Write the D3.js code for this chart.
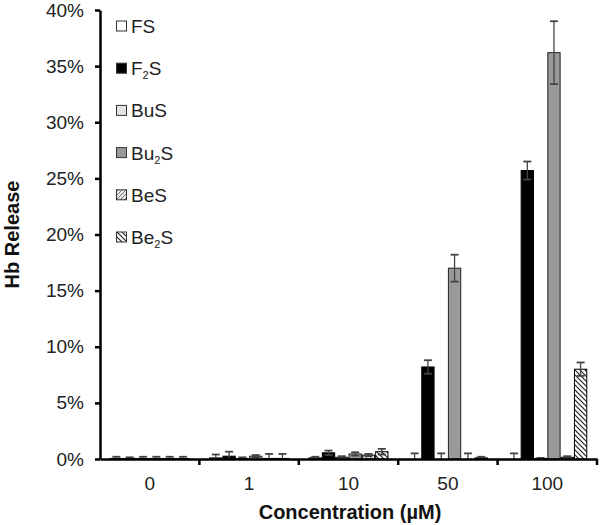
<!DOCTYPE html>
<html>
<head>
<meta charset="utf-8">
<script src="https://cdn.jsdelivr.net/npm/d3@7"></script>
<style>
  body { margin: 0; background: #fff; }
  svg { display: block; font-family: "Liberation Sans", Arial, sans-serif; }
</style>
</head>
<body>
<svg width="600" height="525"></svg>
<script>
// concentrations (µM)
let categories = ["0", "1", "10", "50", "100"];
let series = ["FS", "F2S", "BuS", "Bu2S", "BeS", "Be2S"];

// Hb release (%) per series, one value per concentration
let fsVals   = [0.05, 0.1, 0.1, 0.0, 0.0];
let f2sVals  = [0.05, 0.25, 0.55, 8.2, 25.7];
let busVals  = [0.05, 0.05, 0.15, 0.0, 0.05];
let bu2sVals = [0.05, 0.25, 0.45, 17.0, 36.2];
let besVals  = [0.05, 0.05, 0.35, 0.0, 0.15];
let be2sVals = [0.05, 0.05, 0.65, 0.1, 8.0];

// error (±%)
let fsErr   = [0.15, 0.3, 0.1, 0.5, 0.5];
let f2sErr  = [0.1, 0.4, 0.2, 0.6, 0.8];
let busErr  = [0.15, 0.1, 0.1, 0.5, 0.05];
let bu2sErr = [0.15, 0.1, 0.15, 1.2, 2.8];
let besErr  = [0.15, 0.4, 0.1, 0.5, 0.1];
let be2sErr = [0.15, 0.4, 0.25, 0.1, 0.6];

let yTicks = [0, 5, 10, 15, 20, 25, 30, 35, 40];

let allVals = [fsVals, f2sVals, busVals, bu2sVals, besVals, be2sVals];
let allErr = [fsErr, f2sErr, busErr, bu2sErr, besErr, be2sErr];

let svg = d3.select("svg");
let defs = svg.append("defs");

// hatch for BeS ( / )
let p1 = defs.append("pattern")
    .attr("id", "hatchBeS")
    .attr("patternUnits", "userSpaceOnUse")
    .attr("width", 4).attr("height", 4);
p1.append("rect").attr("width", 4).attr("height", 4).attr("fill", "#e6e6e6");
p1.append("path").attr("d", "M-1,1 l2,-2 M0,4 l4,-4 M3,5 l2,-2")
    .attr("stroke", "#777").attr("stroke-width", 1);

// hatch for Be2S ( \ )
let p2 = defs.append("pattern")
    .attr("id", "hatchBe2S")
    .attr("patternUnits", "userSpaceOnUse")
    .attr("width", 5).attr("height", 5);
p2.append("rect").attr("width", 5).attr("height", 5).attr("fill", "#fff");
p2.append("path").attr("d", "M-1,4 l2,2 M0,0 l5,5 M4,-1 l2,2")
    .attr("stroke", "#222").attr("stroke-width", 1.2);

let fills = {
    "FS": "#ffffff",
    "F2S": "#000000",
    "BuS": "#e3e3e3",
    "Bu2S": "#999999",
    "BeS": "url(#hatchBeS)",
    "Be2S": "url(#hatchBe2S)"
};

let mLeft = 100, mRight = 597, mTop = 10, mBottom = 459;

let x0 = d3.scaleBand()
    .domain(categories)
    .range([mLeft, mRight])
    .padding(0);

let x1 = d3.scaleBand()
    .domain(series)
    .range([0, x0.bandwidth()])
    .paddingInner(0)
    .paddingOuter(0.73);

let y = d3.scaleLinear()
    .domain([0, 40])
    .range([mBottom, mTop]);

// bars
let rows = [];
categories.forEach((c, ci) => {
    series.forEach((s, si) => {
        rows.push({cat: c, ser: s, v: allVals[si][ci], e: allErr[si][ci]});
    });
});

let bw = x1.bandwidth();

svg.append("g")
    .selectAll("rect")
    .data(rows)
    .enter()
    .append("rect")
    .attr("x", (d) => x0(d.cat) + x1(d.ser) + 0.5)
    .attr("y", (d) => y(d.v))
    .attr("width", bw - 1)
    .attr("height", (d) => y(0) - y(d.v))
    .attr("fill", (d) => fills[d.ser])
    .attr("stroke", (d) => d.ser == "Bu2S" ? "#222" : "#000")
    .attr("stroke-width", 1);

// error bars
let eb = svg.append("g")
    .attr("stroke", "#444")
    .attr("stroke-width", 1.3);

rows.forEach((d) => {
    let cx = x0(d.cat) + x1(d.ser) + bw / 2;
    let yTop = y(d.v + d.e);
    let yBot = y(Math.max(0, d.v - d.e));
    eb.append("line")
        .attr("x1", cx).attr("x2", cx)
        .attr("y1", yTop).attr("y2", yBot);
    eb.append("line")
        .attr("x1", cx - 4).attr("x2", cx + 4)
        .attr("y1", yTop).attr("y2", yTop)
        .attr("stroke-width", 1.8);
    if (d.v - d.e > 0) {
        eb.append("line")
            .attr("x1", cx - 4).attr("x2", cx + 4)
            .attr("y1", yBot).attr("y2", yBot)
            .attr("stroke-width", 1.8);
    }
});

// y axis
let yAxis = d3.axisLeft(y)
    .tickValues(yTicks)
    .tickFormat((d) => d + "%")
    .tickSizeInner(5)
    .tickSizeOuter(0)
    .tickPadding(11);

let gy = svg.append("g")
    .attr("transform", "translate(" + mLeft + ",0)")
    .call(yAxis);
gy.select(".domain").attr("stroke-width", 2.5);
gy.selectAll(".tick line").attr("stroke-width", 2.5);
gy.selectAll("text")
    .attr("font-size", 19)
    .attr("font-family", "Liberation Sans, Arial, sans-serif")
    .attr("fill", "#222");

// x axis
let xAxis = d3.axisBottom(x0)
    .tickSize(0)
    .tickPadding(18);

let gx = svg.append("g")
    .attr("transform", "translate(0," + mBottom + ")")
    .call(xAxis);
gx.select(".domain").attr("stroke-width", 2.5);
gx.selectAll("text")
    .attr("font-size", 19)
    .attr("font-family", "Liberation Sans, Arial, sans-serif")
    .attr("fill", "#222");

// boundary ticks between groups
gx.selectAll(".bound")
    .data(categories)
    .enter()
    .append("line")
    .attr("x1", (d) => x0(d) + x0.bandwidth())
    .attr("x2", (d) => x0(d) + x0.bandwidth())
    .attr("y1", 0)
    .attr("y2", 6)
    .attr("stroke", "#000")
    .attr("stroke-width", 2.5);

// axis titles
svg.append("text")
    .attr("x", 350)
    .attr("y", 519)
    .attr("text-anchor", "middle")
    .attr("font-size", 20)
    .attr("font-weight", "bold")
    .attr("fill", "#111")
    .text("Concentration (µM)");

svg.append("text")
    .attr("transform", "translate(19," + ((mTop + mBottom) / 2) + ") rotate(-90)")
    .attr("text-anchor", "middle")
    .attr("font-size", 20)
    .attr("font-weight", "bold")
    .attr("fill", "#111")
    .text("Hb Release");

// legend
let legendLabels = [
    ["FS"], ["F", "2", "S"], ["BuS"], ["Bu", "2", "S"], ["BeS"], ["Be", "2", "S"]
];

let lg = svg.append("g");
series.forEach((s, i) => {
    let ly = 26 + i * 42.2;
    lg.append("rect")
        .attr("x", 116.5)
        .attr("y", ly - 5)
        .attr("width", 10)
        .attr("height", 10)
        .attr("fill", fills[s])
        .attr("stroke", "#333")
        .attr("stroke-width", 1);
    let t = lg.append("text")
        .attr("x", 131)
        .attr("y", ly + 7)
        .attr("font-size", 19)
        .attr("fill", "#222");
    let parts = legendLabels[i];
    if (parts.length == 1) {
        t.text(parts[0]);
    } else {
        t.append("tspan").text(parts[0]);
        t.append("tspan").attr("font-size", 11).attr("dy", 4).text(parts[1]);
        t.append("tspan").attr("dy", -4).text(parts[2]);
    }
});
</script>
</body>
</html>
